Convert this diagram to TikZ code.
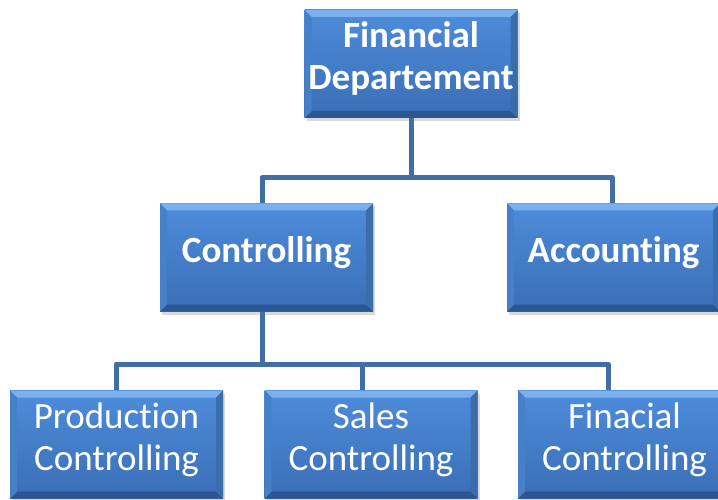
\documentclass[tikz,border=0pt]{standalone}
\usepackage{fontspec}
\setmainfont{Carlito}[Ligatures=NoCommon]
\usetikzlibrary{shadows}

\definecolor{boxtop}{RGB}{78,140,218}
\definecolor{boxbot}{RGB}{58,110,182}
\definecolor{bevlight}{RGB}{120,176,240}
\definecolor{bevside}{RGB}{70,128,200}
\definecolor{bevdark}{RGB}{44,86,146}
\definecolor{linkblue}{RGB}{66,110,166}

\tikzset{
  bevel/.style={
    path picture={
      \fill[bevlight] (path picture bounding box.north west) -- (path picture bounding box.north east)
        -- ([shift={(-7pt,-7pt)}]path picture bounding box.north east) -- ([shift={(7pt,-7pt)}]path picture bounding box.north west) -- cycle;
      \fill[bevdark] (path picture bounding box.south west) -- (path picture bounding box.south east)
        -- ([shift={(-7pt,7pt)}]path picture bounding box.south east) -- ([shift={(7pt,7pt)}]path picture bounding box.south west) -- cycle;
      \fill[bevside] (path picture bounding box.north west) -- ([shift={(7pt,-7pt)}]path picture bounding box.north west)
        -- ([shift={(7pt,7pt)}]path picture bounding box.south west) -- (path picture bounding box.south west) -- cycle;
      \fill[bevside!85!black] (path picture bounding box.north east) -- ([shift={(-7pt,-7pt)}]path picture bounding box.north east)
        -- ([shift={(-7pt,7pt)}]path picture bounding box.south east) -- (path picture bounding box.south east) -- cycle;
    }},
  unit/.style={rectangle, bevel, top color=boxtop, bottom color=boxbot,
    minimum width=213pt, minimum height=108pt, text=white, align=center,
    font=\fontsize{37}{42}\selectfont, inner sep=0pt, text depth=16pt,
    drop shadow={opacity=0.3, shadow xshift=2pt, shadow yshift=-3pt}},
  head/.style={unit, font=\fontsize{37}{42}\selectfont\bfseries},
  link/.style={draw=linkblue, line width=5pt, line join=round}
}

\begin{document}
\begin{tikzpicture}
  \useasboundingbox (0,0) rectangle (718pt,-500pt);
  % junctions of the tree lines
  \coordinate (c1) at (411pt,-177.5pt);
  \coordinate (c2) at (262pt,-364pt);
  % top level
  \node[head] (fin) at (411pt,-64pt) {Financial\\Departement};
  % second level
  \node[head] (ctrl) at (266.5pt,-257.5pt) {Controlling};
  \node[head] (acc) at (613.5pt,-257.5pt) {Accounting};
  % third level
  \node[unit] (prod) at (116.5pt,-444.5pt) {Production\\Controlling};
  \node[unit] (sales) at (371pt,-444.5pt) {Sales\\Controlling};
  \node[unit] (fictrl) at (624.5pt,-444.5pt) {Finacial\\Controlling};
  % links
  \draw[link] (fin.south) -- (c1);
  \draw[link] (c1) -| ([xshift=-4.5pt]ctrl.north);
  \draw[link] (c1) -| ([xshift=-1.5pt]acc.north);
  \draw[link] ([xshift=-4.5pt]ctrl.south) -- (c2);
  \draw[link] (c2) -| ([xshift=-0.5pt]prod.north);
  \draw[link] (c2) -| ([xshift=-9pt]sales.north);
  \draw[link] (c2) -| ([xshift=-16.5pt]fictrl.north);
\end{tikzpicture}
\end{document}
